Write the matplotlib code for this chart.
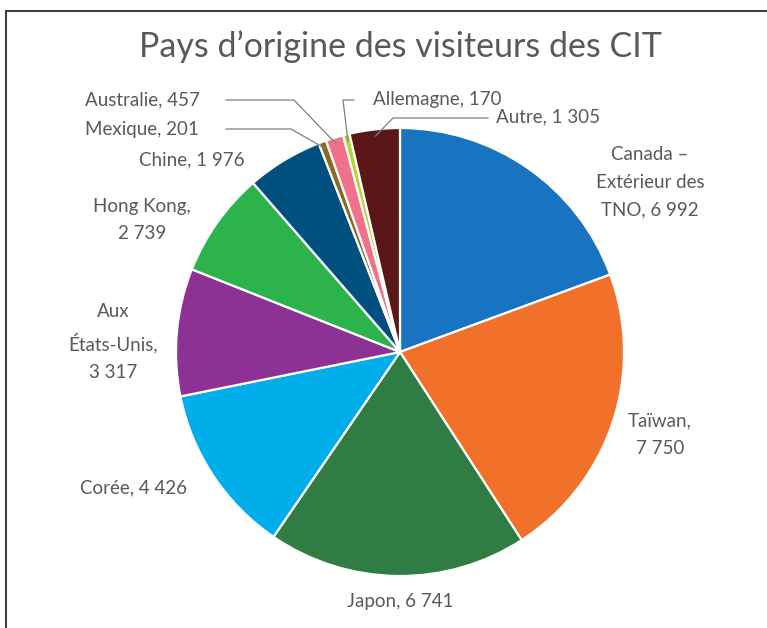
import numpy as np
import matplotlib.pyplot as plt
from matplotlib.lines import Line2D

# data (clockwise from the top)
labels = ['Canada –\nExtérieur des\nTNO, 6 992', 'Taïwan,\n7 750', 'Japon, 6 741',
          'Corée, 4 426', 'Aux\nÉtats-Unis,\n3 317', 'Hong Kong,\n2 739',
          'Chine, 1 976', 'Mexique, 201', 'Australie, 457', 'Allemagne, 170',
          'Autre, 1 305']
values = [6992, 7750, 6741, 4426, 3317, 2739, 1976, 201, 457, 170, 1305]
colors = ['#1874C1', '#F1712A', '#2F7C45', '#00AEEA', '#8D3194', '#2DB34B',
          '#00507F', '#8C6A1C', '#F07189', '#B7D334', '#5B1717']

W, H = 767, 628
cx, cy, R = 400, 352, 224   # pie centre / radius in pixels

# label centres in pixels (layout only)
label_px = [(650, 182), (660, 435), (400, 601), (134, 488), (113, 342),
            (142, 220), (192, 160), (142, 129), (142, 100), (437, 100),
            (548, 117)]
# leader elbows (pixels) for the thin slices
elbows = {7: [(226, 129), (291, 129)], 8: [(226, 100), (294, 100)],
          9: [(354, 100), (343, 100)], 10: [(488, 118), (393, 118)]}

plt.rcParams['font.family'] = ['Lato', 'DejaVu Sans']

fig = plt.figure(figsize=(W / 100, H / 100), dpi=100)
ax = fig.add_axes([(cx - R) / W, (H - cy - R) / H, 2 * R / W, 2 * R / H])
wedges, _ = ax.pie(values, colors=colors, startangle=90, counterclock=False,
                   radius=1, wedgeprops=dict(edgecolor='white', linewidth=1.6))
ax.set_xlim(-1, 1)
ax.set_ylim(-1, 1)
ax.set_aspect('equal')
ax.axis('off')


def to_data(px, py):
    return (px - cx) / R, (cy - py) / R


for i, lab in enumerate(labels):
    x, y = to_data(*label_px[i])
    ax.text(x, y, lab, ha='center', va='center', fontsize=13.5,
            color='#595959', linespacing=1.75, clip_on=False)

for i, pts in elbows.items():
    w = wedges[i]
    mid = np.deg2rad((w.theta1 + w.theta2) / 2)
    ax_pt = (0.97 * np.cos(mid), 0.97 * np.sin(mid))
    xs = [to_data(*p)[0] for p in pts] + [ax_pt[0]]
    ys = [to_data(*p)[1] for p in pts] + [ax_pt[1]]
    ax.plot(xs, ys, color='#7F7F7F', lw=0.9, clip_on=False)

fig.text(400 / W, 1 - 47 / H, 'Pays d’origine des visiteurs des CIT', ha='center',
         va='center', fontsize=24.5, color='#595959')

# chart frame (only top and left edges are visible in the crop)
fig.add_artist(Line2D([6 / W, 1.01], [1 - 11 / H, 1 - 11 / H], transform=fig.transFigure,
                      color='#404040', lw=1.5))
fig.add_artist(Line2D([6 / W, 6 / W], [-0.01, 1 - 11 / H], transform=fig.transFigure,
                      color='#404040', lw=1.5))

fig.savefig('out.png', dpi=100)
